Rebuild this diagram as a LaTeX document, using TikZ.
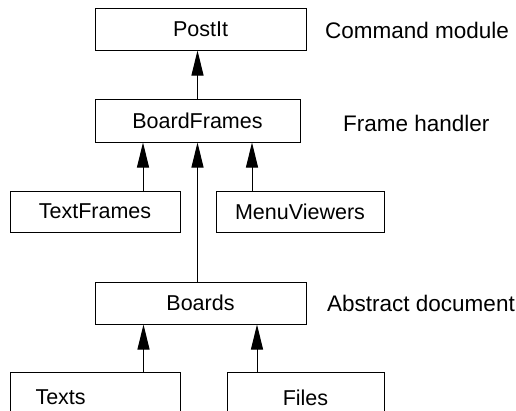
\documentclass[tikz,border=0pt]{standalone}
\usepackage{fontspec}
\setmainfont{Liberation Sans}
\usetikzlibrary{arrows.meta}

\begin{document}
\begin{tikzpicture}[x=1pt,y=-1pt,
  box/.style={draw,line width=1pt,inner sep=0pt,font=\fontsize{21.5}{25}\selectfont},
  note/.style={anchor=west,inner sep=0pt,font=\fontsize{22.5}{26}\selectfont},
  up/.style={line width=1pt,-{Triangle[length=25pt,width=12pt]}}]
\useasboundingbox (0,0) rectangle (516,410);
\clip (0,0) rectangle (516,410);
\node[box,minimum width=211,minimum height=42] (postit) at (200.5,29) {PostIt};
\node[box,minimum width=205,minimum height=43] (boardframes) at (197.5,120.5) {BoardFrames};
\node[box,minimum width=170,minimum height=41] (textframes) at (95,211.5) {TextFrames};
\node[box,minimum width=168,minimum height=41] (menuviewers) at (300,211.5) {MenuViewers};
\node[box,minimum width=211,minimum height=42] (boards) at (200.5,303) {Boards};
\node[box,anchor=north west,minimum width=170,minimum height=50,text width=120,inner xsep=25,align=left] (texts) at (10,372) {Texts};
\node[box,anchor=north,minimum width=157,minimum height=50] (files) at (305.5,372) {Files};
\node[note] (cmd) at (325,30) {Command module};
\node[note] (frm) at (343,123) {Frame handler};
\node[note] (abs) at (327,303) {Abstract document};
\draw[up] (boardframes.north) -- (boardframes.north |- postit.south);
\draw[up] ([xshift=48pt]textframes.north) -- ([xshift=48pt]textframes.north |- boardframes.south);
\draw[up] ([xshift=-48pt]menuviewers.north) -- ([xshift=-48pt]menuviewers.north |- boardframes.south);
\draw[up] (boardframes.south |- boards.north) -- (boardframes.south);
\draw[up] ([xshift=48pt]texts.north) -- ([xshift=48pt]texts.north |- boards.south);
\draw[up] ([xshift=-48.5pt]files.north) -- ([xshift=-48.5pt]files.north |- boards.south);
\end{tikzpicture}
\end{document}
